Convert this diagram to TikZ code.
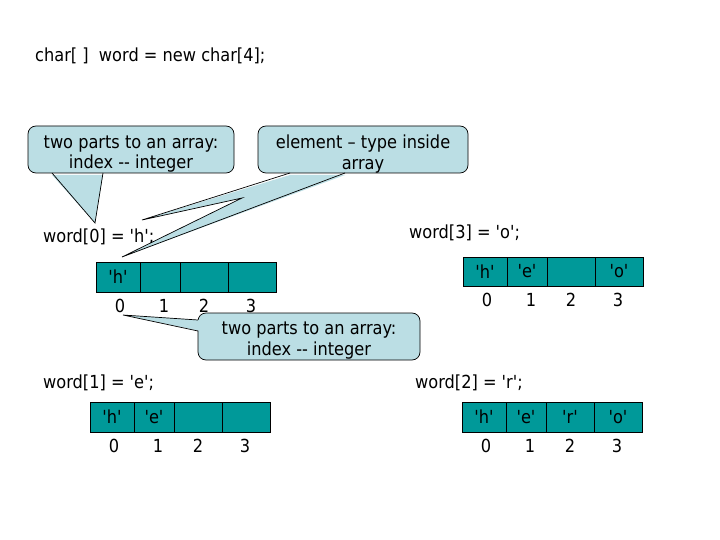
\documentclass[tikz,border=0pt]{standalone}
\usepackage{fontspec}
\newfontfamily\tah{DejaVu Sans Condensed}
\definecolor{cellteal}{RGB}{0,153,153}
\definecolor{callblue}{RGB}{187,222,228}
\tikzset{
  txt/.style={font=\tah\fontsize{18}{20.5}\selectfont, inner sep=0pt, text=black},
  cellbox/.style={txt, draw=black, line width=0.6pt, fill=cellteal, outer sep=0pt, anchor=north west},
  idx/.style={txt},
  callbox/.style={draw=black, line width=0.7pt, fill=callblue, rounded corners=8pt, inner sep=0pt},
  calltext/.style={txt, align=center},
  callfill/.style={fill=callblue},
  callline/.style={draw=black, line width=0.7pt, line join=miter}
}
\newcommand\mkarr[8]{%
  \node[cellbox, minimum width=44pt, minimum height=#4pt] (#1c0) at (#2,#3) {#5};
  \node[cellbox, minimum width=40pt, minimum height=#4pt] (#1c1) at (#1c0.north east) {#6};
  \node[cellbox, minimum width=48pt, minimum height=#4pt] (#1c2) at (#1c1.north east) {#7};
  \node[cellbox, minimum width=48pt, minimum height=#4pt] (#1c3) at (#1c2.north east) {#8};
  \node[idx] (#1i0) at (#2+24,#3+#4+14) {0};
  \node[idx] (#1i1) at (#2+68,#3+#4+14) {1};
  \node[idx] (#1i2) at (#2+108,#3+#4+14) {2};
  \node[idx] (#1i3) at (#2+155,#3+#4+14) {3};
}
\begin{document}
\begin{tikzpicture}[x=1pt,y=-1pt]
\useasboundingbox (0,0) rectangle (720,540);
\fill[white] (0,0) rectangle (720,540);

% statements
\node[txt, anchor=west] (title) at (35,56) {char[ ]\ \ word = new char[4];};
\node[txt, anchor=west] (s0) at (43,237) {word[0] = 'h';};
\node[txt, anchor=west] (s3) at (409,233) {word[3] = 'o';};
\node[txt, anchor=west] (s1) at (43,383) {word[1] = 'e';};
\node[txt, anchor=west] (s2) at (415,383) {word[2] = 'r';};

% arrays
\mkarr{A}{96}{262}{30}{'h'}{}{}{}
\mkarr{B}{463}{257}{29}{'h'}{'e'}{}{'o'}
\mkarr{C}{90}{402}{30}{'h'}{'e'}{}{}
\mkarr{D}{462}{402}{30}{'h'}{'e'}{'r'}{'o'}

% callout 1
\node[callbox, minimum width=206pt, minimum height=47pt] (k1) at (131,149.5) {};
\node[calltext] (k1t) at (131,154) {two parts to an array:\\index -{}- integer};
\coordinate (k1a) at (52,173);
\coordinate (k1p) at (95,223);
\coordinate (k1b) at (103,173);
\fill[callfill] ([yshift=-2pt]k1a) -- (k1p) -- ([yshift=-2pt]k1b) -- cycle;
\draw[callline] (k1a) -- (k1p) -- (k1b);

% callout 2
\node[callbox, minimum width=210pt, minimum height=47pt] (k2) at (363,149.5) {};
\node[calltext] (k2t) at (363,154) {element – type inside\\array};
\coordinate (k2a) at (290,173);
\coordinate (k2p) at (142,220);
\coordinate (k2m) at (242,198);
\coordinate (k2u) at (122,257);
\coordinate (k2b) at (345,173);
\fill[callfill] ([yshift=-2pt]k2a) -- (k2p) -- (k2m) -- (k2u) -- ([yshift=-2pt]k2b) -- cycle;
\draw[callline] (k2a) -- (k2p) -- (k2m) -- (k2u) -- (k2b);

% callout 3
\node[callbox, minimum width=222pt, minimum height=47pt] (k3) at (309,336.5) {};
\node[calltext] (k3t) at (309,340.5) {two parts to an array:\\index -{}- integer};
\coordinate (k3a) at (198,320);
\coordinate (k3p) at (123,315);
\coordinate (k3b) at (198,331);
\fill[callfill] ([xshift=2pt]k3a) -- (k3p) -- ([xshift=2pt]k3b) -- cycle;
\draw[callline] (k3a) -- (k3p) -- (k3b);
\end{tikzpicture}
\end{document}
